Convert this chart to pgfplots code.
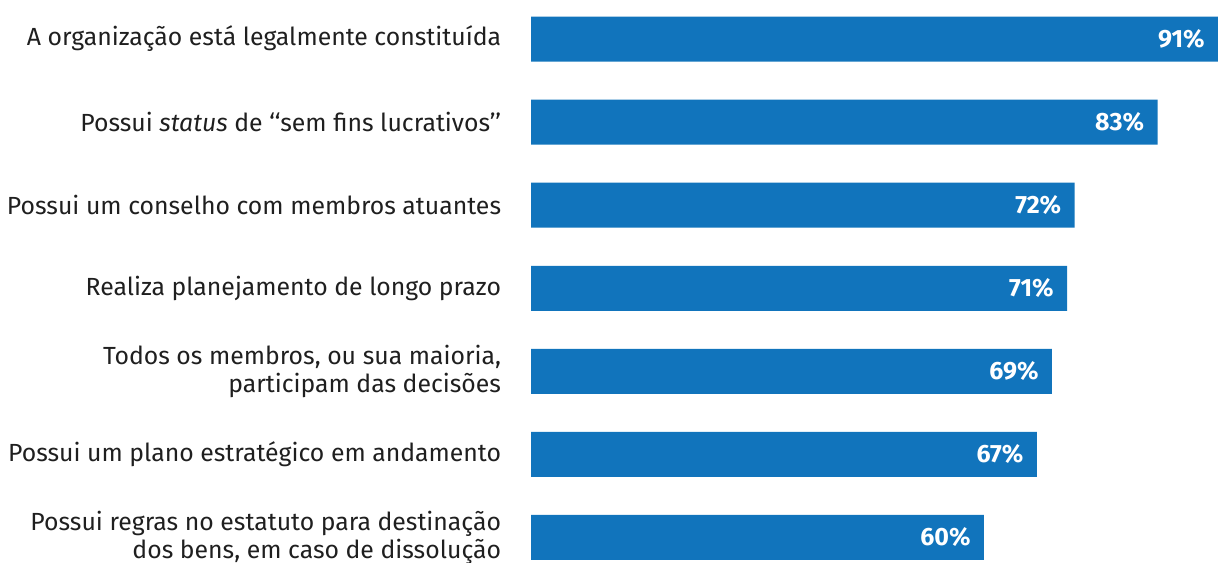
\documentclass[border=0pt]{standalone}
\usepackage{fontspec}
\setmainfont{Fira Sans}
\usepackage{pgfplots}
\pgfplotsset{compat=1.18}
\definecolor{barblue}{HTML}{1174BC}
\begin{document}
\begin{tikzpicture}
\begin{axis}[
    at={(265.5pt,-8.5pt)}, anchor=south west,
    scale only axis,
    width=343.5pt, height=290.75pt,
    xbar,
    bar width=22.5pt,
    xmin=0, xmax=91,
    ymin=-0.5, ymax=6.5,
    y dir=reverse,
    axis line style={draw=none},
    tick style={draw=none},
    xtick=\empty,
    ytick={0,...,6},
    yticklabels={
        {A organização está legalmente constituída},
        {Possui \textit{status} de ‘‘sem fins lucrativos’’},
        {Possui um conselho com membros atuantes},
        {Realiza planejamento de longo prazo},
        {Todos os membros, ou sua maioria,\\participam das decisões},
        {Possui um plano estratégico em andamento},
        {Possui regras no estatuto para destinação\\dos bens, em caso de dissolução}
    },
    yticklabel style={align=right, inner sep=0pt, xshift=-10.5pt,
        font=\fontsize{12.4pt}{14pt}\selectfont, text=black!88},
    point meta=explicit symbolic,
    nodes near coords={\pgfplotspointmeta\%},
    nodes near coords style={anchor=east, text=white, inner sep=0pt,
        xshift=-6.5pt, font=\fontsize{12.5pt}{14pt}\selectfont\bfseries},
]
\addplot[fill=barblue, draw=none] coordinates {
    (91,0) [91]
    (83,1) [83]
    (72,2) [72]
    (71,3) [71]
    (69,4) [69]
    (67,5) [67]
    (60,6) [60]
};
\end{axis}
\pgfresetboundingbox
\useasboundingbox (0,0) rectangle (609pt,281pt);
\end{tikzpicture}
\end{document}
